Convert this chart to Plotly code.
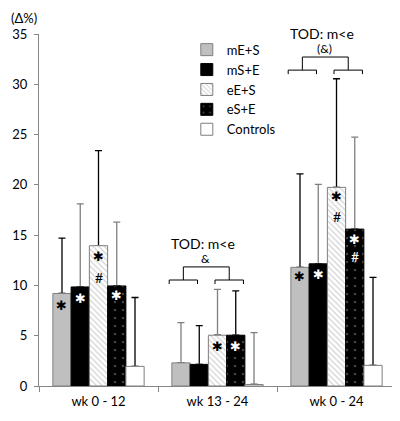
import plotly.graph_objects as go

# data
categories = ["wk 0 - 12", "wk 13 - 24", "wk 0 - 24"]
series_names = ["mE+S", "mS+E", "eE+S", "eS+E", "Controls"]
means = [
    [9.2, 2.3, 11.8],
    [9.85, 2.15, 12.15],
    [13.95, 5.05, 19.75],
    [9.95, 5.05, 15.6],
    [1.95, 0.15, 2.05],
]
sds = [
    [5.5, 4.0, 9.3],
    [8.25, 3.85, 7.9],
    [9.45, 4.55, 10.8],
    [6.35, 4.4, 9.15],
    [6.85, 5.15, 8.75],
]
# which error bars are drawn gray (True) or black (False)
err_gray = [
    [False, True, False],
    [True, False, True],
    [False, True, False],
    [True, False, True],
    [False, True, False],
]
# significance marks inside bars: (series, group, y, text, white?)
marks = [
    (0, 0, 8.05, "✱", False), (1, 0, 8.7, "✱", True),
    (2, 0, 12.85, "✱", False), (2, 0, 10.8, "#", False),
    (3, 0, 8.95, "✱", True),
    (2, 1, 3.9, "✱", False), (3, 1, 3.9, "✱", True),
    (0, 2, 10.85, "✱", False), (1, 2, 11.1, "✱", True),
    (2, 2, 18.8, "✱", False), (2, 2, 16.9, "#", False),
    (3, 2, 14.6, "✱", True), (3, 2, 12.85, "#", True),
]
# bracket labels: group, y of small brackets, label lines
brackets = [(1, 10.54, "TOD: m<e", "&"), (2, 31.41, "TOD: m<e", "(&)")]

FONT = "Lato"
GRAY = "#7f7f7f"
Y_MAX = 35
BARGAP = 0.233
bar_w = (1 - BARGAP) / 5

styles = [
    dict(color="#bfbfbf", line=dict(color=GRAY, width=1)),
    dict(color="black", line=dict(color="black", width=1)),
    dict(color="white", line=dict(color=GRAY, width=1),
         pattern=dict(shape="\\", fgcolor="#a5a5a5", bgcolor="white", size=4, solidity=0.3)),
    dict(color="black", line=dict(color="black", width=1),
         pattern=dict(shape=".", fgcolor="#8c8c8c", bgcolor="black", size=8, solidity=0.07)),
    dict(color="white", line=dict(color=GRAY, width=1)),
]

fig = go.Figure()

# error bars first, on invisible bars, so the real bars cover their feet
for i, name in enumerate(series_names):
    for gray in (False, True):
        arr = [s if g == gray else None for s, g in zip(sds[i], err_gray[i])]
        fig.add_trace(go.Bar(
            x=categories, y=means[i], offsetgroup=str(i), showlegend=False,
            marker=dict(color="rgba(0,0,0,0)", line=dict(width=0)),
            error_y=dict(type="data", symmetric=False, array=arr,
                         arrayminus=[0, 0, 0], color=GRAY if gray else "black",
                         thickness=1.3, width=3.5),
            hoverinfo="skip",
        ))

for i, name in enumerate(series_names):
    fig.add_trace(go.Bar(
        x=categories, y=means[i], name=name, offsetgroup=str(i),
        marker=styles[i],
    ))

annotations = []
for s, g, y, txt, white in marks:
    annotations.append(dict(
        x=g + (s - 2) * bar_w, y=y, xref="x", yref="y", text=txt, showarrow=False,
        xanchor="center", yanchor="middle",
        font=dict(family="DejaVu Sans" if txt == "✱" else FONT,
                  size=13 if txt == "✱" else 14,
                  color="white" if white else "black"),
    ))

shapes = []
line = dict(color="black", width=1)
for g, ys, top_txt, sub_txt in brackets:
    y_top = ys + 1.3
    drop = 0.4
    # two small brackets
    for x0, x1 in [(-0.406, -0.168), (-0.021, 0.218)]:
        shapes.append(dict(type="path", xref="x", yref="y", line=line,
                           path=f"M {g + x0},{ys - drop} L {g + x0},{ys} L {g + x1},{ys} L {g + x1},{ys - drop}"))
    # joining bracket
    xl, xr = g - 0.287, g + 0.0985
    shapes.append(dict(type="path", xref="x", yref="y", line=line,
                       path=f"M {xl},{ys} L {xl},{y_top} L {xr},{y_top} L {xr},{ys}"))
    # texts in paper y so the top one is not hidden past the axis range
    annotations.append(dict(x=g - 0.118, y=(y_top + 2.3) / Y_MAX, xref="x", yref="paper",
                            text=top_txt, showarrow=False, xanchor="center", yanchor="middle",
                            font=dict(family=FONT, size=14, color="black")))
    annotations.append(dict(x=g - 0.105, y=(y_top + 0.85) / Y_MAX, xref="x", yref="paper",
                            text=sub_txt, showarrow=False, xanchor="center", yanchor="middle",
                            font=dict(family=FONT, size=12, color="black")))

annotations.append(dict(x=-0.041, y=1.045, xref="paper", yref="paper", text="(Δ%)",
                        showarrow=False, xanchor="center", yanchor="middle",
                        font=dict(family=FONT, size=13, color="black")))

# the page body has an 8px margin, so the figure is drawn 8px smaller
# and the margins shrunk to keep the plot area where the reference has it
fig.update_layout(
    width=392, height=413,
    margin=dict(l=26, r=4, t=26, b=35),
    paper_bgcolor="white", plot_bgcolor="white",
    barmode="group", bargap=BARGAP, bargroupgap=0,
    font=dict(family=FONT, size=12, color="black"),
    showlegend=True,
    legend=dict(x=0.414, y=0.998, xanchor="left", yanchor="top",
                font=dict(family=FONT, size=13, color="black"),
                bgcolor="rgba(0,0,0,0)", tracegroupgap=0),
    annotations=annotations,
    shapes=shapes,
)
fig.update_xaxes(showline=True, linecolor="#868686", linewidth=1, ticks="outside",
                 tickcolor="#868686", ticklen=5, tickson="boundaries", ticklabelstandoff=3,
                 tickfont=dict(family=FONT, size=13, color="black"), showgrid=False)
fig.update_yaxes(range=[0, Y_MAX], dtick=5, showline=True, linecolor="#868686", linewidth=1,
                 ticks="outside", tickcolor="#868686", ticklen=4, showgrid=False,
                 zeroline=False, ticklabelstandoff=4,
                 tickfont=dict(family=FONT, size=13, color="black"))

fig.write_html("out.html")
